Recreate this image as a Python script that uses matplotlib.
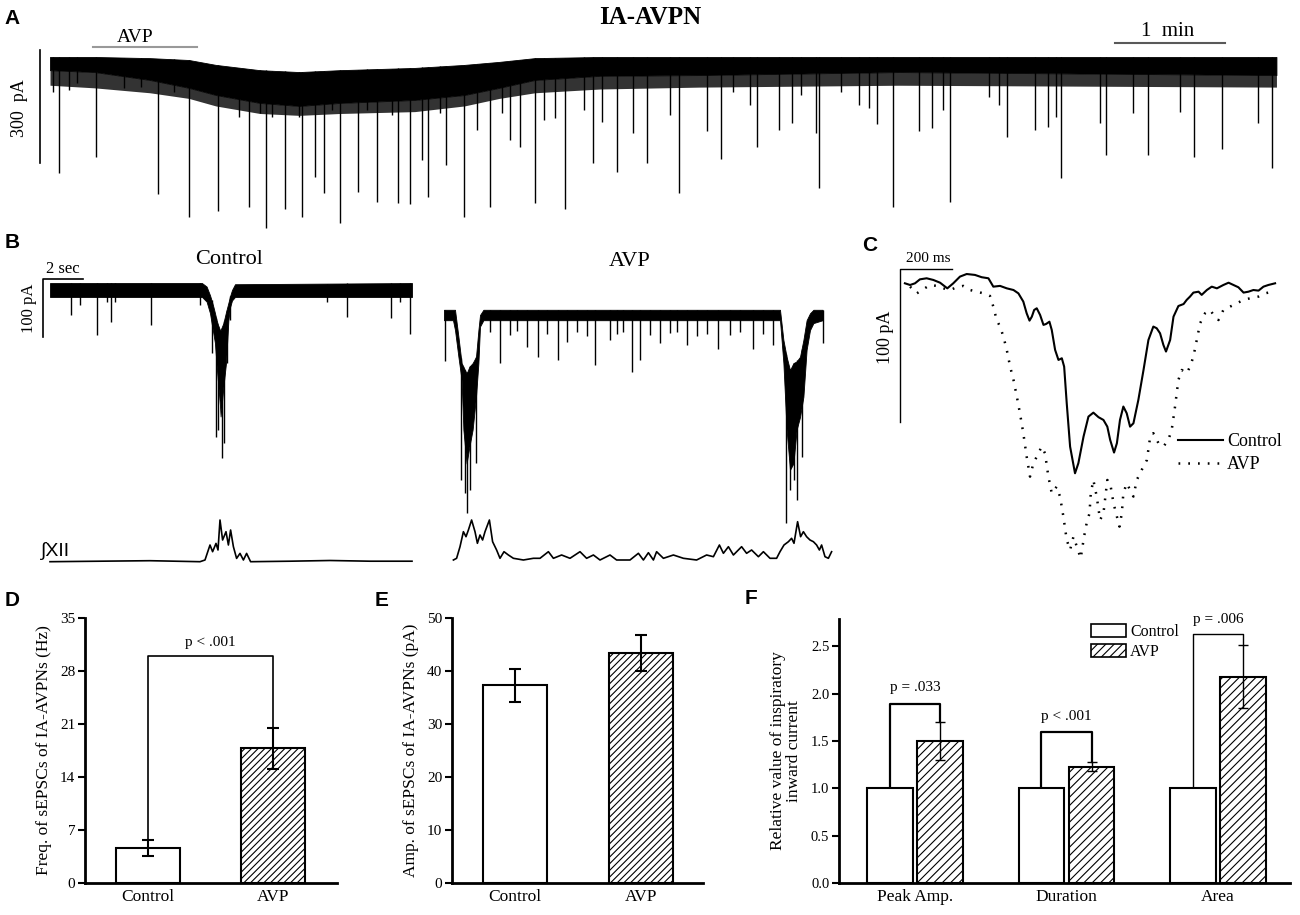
import numpy as np
import matplotlib.pyplot as plt
from matplotlib.patches import Patch

plt.rcParams['font.family'] = ['Liberation Serif', 'DejaVu Serif']
plt.rcParams['hatch.linewidth'] = 0.8

# ---------------- A : long recording (time in s, current in pA) ----------------
a_env_t = [0, 24.5, 54.5, 75.8, 90.5, 114.5, 136, 158, 199, 226, 245, 264.5, 300, 354, 463, 669]
a_env_top = [0, 0, -3, -8, -21, -35, -40, -35, -29, -21, -13, -3, 0, 0, 0, 0]
a_env_solid = [-35, -40, -61, -82, -101, -122, -130, -122, -114, -101, -82, -61, -50, -48, -40, -48]
a_env_fringe = [-75, -82, -95, -110, -130, -150, -155, -150, -145, -130, -110, -95, -85, -80, -75, -80]

a_spk_t = [4.9, 25.1, 58.9, 75.8, 91.6, 108.5, 117.8, 128.2, 137.5, 144.5, 149.5, 158.2, 168.0,
           178.4, 189.8, 196.4, 202.9, 206.2, 216.0, 225.8, 240.0, 256.4, 264.5, 280.9, 296.2,
           309.3, 325.6, 338.2, 343.1, 358.4, 366.0, 381.8, 385.6, 397.6, 404.7, 417.8, 419.5,
           451.1, 459.8, 474.0, 481.1, 487.1, 490.9, 522.0, 537.3, 544.4, 551.5, 572.7, 576.0,
           590.7, 598.9, 616.4, 624.0, 639.3, 658.9, 666.5,
           1.6, 10.4, 14.7, 40.4, 49.6, 67.6, 103.0, 114.5, 121.0, 135.8, 153.8, 173.0, 186.5,
           212.7, 232.9, 246.5, 251.0, 269.5, 275.5, 291.3, 301.0, 318.0, 372.5, 409.6, 431.5,
           441.3, 446.7, 512.0, 517.6, 548.7]
a_spk_amp = [-308, -265, -364, -425, -409, -398, -454, -404, -425, -319, -361, -441, -358,
             -385, -388, -390, -273, -372, -287, -425, -398, -239, -388, -404, -281,
             -305, -281, -154, -361, -196, -271, -127, -239, -194, -175, -202, -348,
             -178, -398, -196, -189, -141, -385, -212, -194, -186, -321, -175, -260,
             -149, -260, -146, -265, -244, -175, -295,
             -93, -88, -69, -82, -80, -93, -159, -149, -159, -159, -141, -141, -154,
             -149, -194, -149, -220, -167, -162, -141, -172, -202, -93, -101, -93,
             -127, -135, -106, -127, -159]

# ---------------- B : control sweep (s, pA) ----------------
bc_t = [0, 7.6, 7.83, 8.0, 8.08, 8.17, 8.25, 8.33, 8.42, 8.5, 8.53, 8.67, 8.8, 8.92, 9.0, 9.1, 9.25, 18.1]
bc_top = [12, 12, 6, -9, -18, -29, -40, -52, -62, -69, -69, -57, -38, -22, -11, 0, 10, 12]
bc_bot = [-12, -12, -20, -40, -57, -75, -92, -130, -167, -200, -218, -167, -126, -52, -30, -18, -12, -12]
bc_spk_t = [8.08, 8.3, 8.42, 8.58, 8.7, 8.83, 9.0,
            1.03, 1.5, 2.33, 2.83, 3.05, 3.25, 5.03, 7.5, 13.83, 14.83, 17.05, 17.5, 18.0]
bc_spk_amp = [-109, -253, -241, -289, -264, -126, -52,
              -43, -26, -78, -20, -55, -20, -60, -26, -20, -47, -49, -20, -75]
bc_xii_t = [0, 2.5, 5.0, 7.5, 7.75, 8.0, 8.13, 8.3, 8.4, 8.5, 8.63, 8.8, 8.92, 9.03, 9.17,
            9.33, 9.5, 9.67, 9.83, 10.03, 12.0, 14.0, 16.0, 18.1]
bc_xii = [0, 0.05, 0.1, 0.0, 0.17, 1.67, 1.0, 1.83, 1.17, 4.17, 2.17, 3.0, 1.67, 3.17, 1.5,
          0.33, 0.83, 0.17, 0.83, 0.0, 0.05, 0.12, 0.05, 0.05]

# ---------------- B : AVP sweep (s, pA) ----------------
bv_t = [0, 0.45, 0.55, 0.72, 0.88, 0.97, 1.13, 1.27, 1.43, 1.6, 1.72, 1.8, 1.97,
        16.8, 16.97, 17.13, 17.3, 17.47, 17.63, 17.8, 17.97, 18.13, 18.3, 18.47, 18.93]
bv_top = [9, 9, 9, -37, -83, -89, -101, -89, -83, -72, -26, 0, 9,
          9, -43, -72, -95, -83, -80, -72, -43, -9, 3, 9, 9]
bv_bot = [-9, -9, -26, -72, -112, -198, -256, -227, -198, -141, -83, -20, -9,
          -9, -83, -198, -267, -256, -198, -176, -141, -60, -26, -14, -9]
bv_spk_t = [0.05, 0.85, 1.05, 1.17, 1.3, 1.6, 17.1, 17.3, 17.52, 17.67, 17.88, 18.93,
            2.8, 4.13, 4.72, 5.72, 6.13, 7.55, 8.3, 9.38, 9.8, 10.8, 12.13, 13.72, 15.47, 16.47,
            2.3, 3.3, 3.63, 5.13, 6.63, 7.13, 8.63, 8.97, 10.3, 11.3, 11.63, 12.63, 13.13,
            14.3, 14.8, 15.97]
bv_spk_amp = [-80, -284, -307, -342, -302, -256, -359, -302, -284, -319, -245, -48,
              -83, -55, -72, -78, -46, -86, -43, -98, -78, -49, -52, -58, -58, -52,
              -30, -35, -28, -33, -30, -36, -32, -29, -34, -31, -30, -37, -33, -35, -30, -32]
bv_xii_t = [0.47, 0.63, 0.8, 0.97, 1.1, 1.22, 1.38, 1.55, 1.67, 1.8, 1.93, 2.05, 2.27, 2.43,
            2.63, 2.8, 3.0, 3.22, 3.47, 3.97, 4.47, 4.8, 5.22, 5.47, 5.88, 6.3, 6.8, 7.13, 7.47,
            7.8, 8.3, 8.63, 9.3, 9.72, 9.97, 10.22, 10.47, 10.63, 10.97, 11.47, 11.97, 12.63,
            13.13, 13.47, 13.77, 13.97, 14.22, 14.47, 14.88, 15.13, 15.38, 15.72, 15.97, 16.3,
            16.63, 16.8, 17.0, 17.22, 17.38, 17.5, 17.68, 17.83, 17.97, 18.13, 18.3, 18.47,
            18.63, 18.77, 18.88, 19.05, 19.22, 19.38]
bv_xii = [0, 0.17, 1.33, 2.83, 2.33, 3.0, 4.0, 2.83, 1.67, 2.5, 2.0, 2.83, 4.0, 1.83,
          1.0, 0.17, 0.83, 0.5, 0.17, 0, 0.17, 0.17, 0.83, 0.17, 0.5, 0.17, 0.83, 0.17, 0.5,
          0, 0.5, 0, 0, 0.67, 0, 0.73, 0, 0.83, 0.17, 0.5, 0.17, 0,
          0.5, 0.33, 1.5, 0.67, 1.33, 0.5, 1.33, 0.67, 1.0, 0.33, 0.83, 0.17,
          0.17, 0.83, 1.5, 1.83, 2.17, 1.67, 3.83, 2.33, 2.83, 2.33, 2.0, 1.83,
          1.5, 1.0, 1.5, 0.33, 0.17, 0.83]

# ---------------- C : averaged inspiratory currents (ms, pA) ----------------
c_ctl_t = [19, 39, 58, 77, 103, 129, 155, 183, 206, 232, 258, 290, 316, 342, 361, 387, 413, 439,
           458, 477, 490, 501, 510, 519, 529, 542, 555, 565, 578, 587, 600, 613, 626, 635, 645,
           658, 677, 690, 710, 729, 748, 768, 787, 802, 813, 828, 839, 851, 864, 877, 890, 903,
           922, 942, 961, 980, 993, 1006, 1019, 1029, 1045, 1058, 1077, 1097, 1109, 1122, 1135,
           1155, 1167, 1187, 1206, 1226, 1251, 1271, 1290, 1309, 1329, 1348, 1367, 1387, 1406,
           1425, 1451]
c_ctl = [-2.2, -3.3, -2.2, 0.4, 1.1, 0, -1.8, -5.5, -2.2, 2.2, 3.9, 3.3, 1.8, 1.1, -4.4, -3.9,
         -5.5, -6.6, -8.8, -14.2, -21.9, -26.7, -24.1, -19.7, -18.6, -23.0, -29.5, -28.9, -27.4,
         -32.8, -45.9, -52.5, -51.4, -56.9, -81.0, -109.4, -126.9, -120.3, -102.8, -89.7, -87.1,
         -90.1, -91.9, -96.3, -105.0, -113.3, -107.2, -91.9, -83.1, -87.5, -96.3, -94.1, -78.8,
         -59.1, -39.4, -30.6, -31.7, -35.0, -42.7, -47.0, -39.4, -24.1, -17.1, -15.8, -13.1,
         -10.9, -8.3, -7.7, -9.8, -6.6, -4.4, -5.5, -3.3, -1.8, -3.3, -4.8, -8.3, -7.7, -6.6,
         -7.0, -4.4, -3.3, -2.2]
c_avp_t = [39, 65, 90, 116, 142, 168, 194, 219, 245, 271, 297, 323, 348, 361, 374, 387, 400, 413,
           426, 439, 452, 464, 477, 490, 503, 516, 529, 548, 561, 574, 587, 606, 619, 632, 645,
           658, 671, 684, 699, 712, 722, 733, 738, 748, 761, 774, 787, 802, 813, 826, 839, 849,
           858, 864, 877, 890, 903, 916, 935, 955, 968, 980, 1000, 1019, 1038, 1051, 1064, 1077,
           1090, 1109, 1122, 1135, 1148, 1161, 1180, 1200, 1213, 1232, 1251, 1277, 1303, 1329,
           1355, 1387, 1413, 1438, 1451]
c_avp = [-4.4, -8.8, -6.1, -3.3, -3.9, -5.5, -6.6, -4.8, -3.9, -6.6, -7.7, -8.8, -10.5, -17.5,
         -26.3, -30.6, -37.2, -45.9, -56.9, -65.6, -76.6, -87.5, -100.6, -116.0, -129.1, -120.3,
         -116.0, -109.4, -113.8, -129.1, -140.0, -135.7, -142.2, -155.3, -170.7, -177.2, -168.5,
         -175.0, -182.7, -168.5, -159.7, -153.2, -140.0, -131.3, -142.2, -157.5, -153.2, -131.3,
         -133.5, -146.6, -155.3, -161.9, -153.2, -140.0, -133.5, -137.8, -142.2, -131.3, -124.7,
         -118.2, -102.8, -100.6, -107.2, -109.4, -105.0, -98.5, -83.1, -65.6, -59.1, -61.3,
         -56.9, -50.3, -39.4, -28.4, -21.9, -19.7, -23.0, -26.3, -19.7, -17.5, -15.3, -13.1,
         -12.0, -10.9, -8.8, -7.7, -6.6]

# ---------------- D, E, F : summary bars ----------------
groups_de = ['Control', 'AVP']
freq_mean = [4.6, 17.8]
freq_err = [1.05, 2.7]
amp_mean = [37.3, 43.4]
amp_err = [3.15, 3.45]
f_groups = ['Peak Amp.', 'Duration', 'Area']
f_ctl = [1.0, 1.0, 1.0]
f_avp = [1.5, 1.23, 2.18]
f_avp_err = [0.2, 0.045, 0.33]
f_pvals = ['p = .033', 'p < .001', 'p = .006']

W, H = 1300, 915
fig = plt.figure(figsize=(13, 9.15), dpi=100)


def ax_px(x0, y0, x1, y1):
    ax = fig.add_axes([x0 / W, 1 - y1 / H, (x1 - x0) / W, (y1 - y0) / H])
    return ax


def txt(x, y, s, **kw):
    kw.setdefault('ha', 'center')
    kw.setdefault('va', 'center')
    fig.text(x / W, 1 - y / H, s, **kw)


def letter(x, y, s):
    txt(x, y, s, family=['Liberation Sans', 'DejaVu Sans'], weight='bold', fontsize=15)


def trace(ax, t, top, bot, spk_t, spk_amp, fringe=None):
    if fringe is not None:
        ax.fill_between(t, fringe, bot, color='0.2', lw=0)
    ax.fill_between(t, bot, top, color='k', lw=0.6, edgecolor='k')
    base = np.interp(spk_t, t, top)
    ax.vlines(spk_t, spk_amp, base, color='k', lw=1.0)
    ax.axis('off')


# ---- A ----
axA = ax_px(50, 40, 1277, 232)
trace(axA, a_env_t, a_env_top, a_env_solid, a_spk_t, a_spk_amp, fringe=a_env_fringe)
axA.set_xlim(0, 669.3)
axA.set_ylim(-464.6, 45.1)
axA.plot([-5.5, -5.5], [18.6, -281.4], color='k', lw=1.2, clip_on=False)
axA.plot([581, 641], [37, 37], color='0.35', lw=1.5, clip_on=False)
axA.plot([23.5, 80.2], [26.5, 26.5], color='0.6', lw=1.5, clip_on=False)
letter(12, 19, 'A')
txt(650, 18, 'IA-AVPN', fontsize=18, weight='bold')
txt(135, 37, 'AVP', fontsize=14)
txt(1168, 31, '1  min', fontsize=15)
txt(19, 108, '300  pA', fontsize=13, rotation=90)

# ---- B ----
axBc = ax_px(30, 270, 420, 470)
trace(axBc, bc_t, bc_top, bc_bot, bc_spk_t, bc_spk_amp)
axBc.set_xlim(-1, 18.5)
axBc.set_ylim(-310.3, 34.5)
axBc.plot([1.65, -0.35, -0.35], [19, 19, -81], color='k', lw=1.2, clip_on=False)

axBcx = ax_px(30, 510, 420, 570)
axBcx.plot(bc_xii_t, bc_xii, color='k', lw=1.2)
axBcx.set_xlim(-1, 18.5)
axBcx.set_ylim(-0.83, 5.17)
axBcx.axis('off')

axBv = ax_px(430, 290, 840, 530)
trace(axBv, bv_t, bv_top, bv_bot, bv_spk_t, bv_spk_amp)
axBv.set_xlim(-0.7, 19.8)
axBv.set_ylim(-370.7, 43.1)

axBvx = ax_px(430, 510, 840, 570)
axBvx.plot(bv_xii_t, bv_xii, color='k', lw=1.2)
axBvx.set_xlim(-0.7, 19.8)
axBvx.set_ylim(-1.0, 5.0)
axBvx.axis('off')

letter(12, 243, 'B')
txt(229, 260, 'Control', fontsize=16)
txt(630, 261, 'AVP', fontsize=16)
txt(63, 269, '2 sec', fontsize=12)
txt(29, 308, '100 pA', fontsize=12, rotation=90)
txt(56, 551, '\u222bXII', fontsize=14, family=['Liberation Sans', 'DejaVu Sans'])

# ---- C ----
axC = ax_px(880, 260, 1290, 570)
l1, = axC.plot(c_ctl_t, c_ctl, color='k', lw=1.5)
l2, = axC.plot(c_avp_t, c_avp, color='k', lw=1.8, linestyle=(0, (0.7, 3.2)))
axC.plot([200, 0, 0], [7, 7, -93], color='k', lw=1.0, clip_on=False)
axC.set_xlim(-77.4, 1508.7)
axC.set_ylim(-190.4, 13.1)
axC.axis('off')
axC.legend([l1, l2], ['Control', 'AVP'], loc='center left',
           bbox_to_anchor=(1178 / W, 1 - 453 / H), bbox_transform=fig.transFigure,
           frameon=False, fontsize=13, handlelength=2.5, handletextpad=0.2, labelspacing=0.35,
           borderpad=0, borderaxespad=0)
letter(870, 245, 'C')
txt(928, 258, '200 ms', fontsize=11)
txt(885, 337, '100 pA', fontsize=13, rotation=90)


# ---- D, E ----
def style_bar_axes(ax, tick_fs=11):
    for s in ['top', 'right']:
        ax.spines[s].set_visible(False)
    for s in ['left', 'bottom']:
        ax.spines[s].set_linewidth(2)
    ax.tick_params(axis='y', direction='out', length=5, width=1.5, labelsize=tick_fs, pad=2)
    ax.tick_params(axis='x', length=0, labelsize=12.5, pad=4)


x_de = np.array([1, 2])
axD = ax_px(85, 618, 337, 883)
bD = axD.bar(x_de, freq_mean, width=0.51, color='white', edgecolor='k', lw=1.5)
bD[1].set_hatch('/////')
axD.errorbar(x_de, freq_mean, yerr=freq_err, fmt='none', ecolor='k', elinewidth=1.5,
             capsize=4, capthick=1.5)
axD.plot([1, 1, 2, 2], [5.7, 30, 30, freq_mean[1] + freq_err[1]], color='k', lw=1.2)
axD.text(1.5, 31.7, 'p < .001', ha='center', va='center', fontsize=11)
axD.set_xlim(0.496, 2.508)
axD.set_ylim(0, 35)
axD.set_yticks(np.arange(0, 36, 7))
axD.set_xticks(x_de)
axD.set_xticklabels(groups_de)
axD.set_ylabel('Freq. of sEPSCs of IA-AVPNs (Hz)', fontsize=12.5, labelpad=6)
style_bar_axes(axD)
letter(12, 600, 'D')

axE = ax_px(452, 618, 703, 883)
bE = axE.bar(x_de, amp_mean, width=0.508, color='white', edgecolor='k', lw=1.5)
bE[1].set_hatch('/////')
axE.errorbar(x_de, amp_mean, yerr=amp_err, fmt='none', ecolor='k', elinewidth=1.5,
             capsize=4, capthick=1.5)
axE.set_xlim(0.498, 2.49)
axE.set_ylim(0, 50)
axE.set_yticks(np.arange(0, 51, 10))
axE.set_xticks(x_de)
axE.set_xticklabels(groups_de)
axE.set_ylabel('Amp. of sEPSCs of IA-AVPNs (pA)', fontsize=12.5, labelpad=6)
style_bar_axes(axE)
letter(382, 600, 'E')

# ---- F ----
xf = np.arange(3)
off = 0.166
axF = ax_px(839, 619, 1290, 883)
bF1 = axF.bar(xf - off, f_ctl, width=0.30, color='white', edgecolor='k', lw=1.5)
bF2 = axF.bar(xf + off, f_avp, width=0.30, color='white', edgecolor='k', lw=1.5, hatch='////')
axF.errorbar(xf + off, f_avp, yerr=f_avp_err, fmt='none', ecolor='k', elinewidth=1.0,
             capsize=3.5, capthick=1.0)
br_top = [1.894, 1.60, 2.63]
br_txt = [2.064, 1.758, 2.79]
for i in range(3):
    lw = 1.0 if i == 2 else 1.6
    axF.plot([xf[i] - off, xf[i] - off, xf[i] + off, xf[i] + off],
             [1.03, br_top[i], br_top[i], f_avp[i] + f_avp_err[i]], color='k', lw=lw)
    axF.text(xf[i], br_txt[i], f_pvals[i], ha='center', va='center', fontsize=11)
axF.set_xlim(-0.502, 2.475)
axF.set_ylim(0, 2.79)
axF.set_yticks(np.arange(0, 2.51, 0.5))
axF.set_yticklabels([f'{v:.1f}' for v in np.arange(0, 2.51, 0.5)])
axF.set_xticks(xf)
axF.set_xticklabels(f_groups)
axF.set_ylabel('Relative value of inspiratory\ninward current', fontsize=12.5,
               labelpad=6, linespacing=1.0)
style_bar_axes(axF, tick_fs=10.5)
axF.legend([Patch(facecolor='white', edgecolor='k', lw=1.2),
            Patch(facecolor='white', edgecolor='k', lw=1.2, hatch='////')],
           ['Control', 'AVP'], loc='upper left',
           bbox_to_anchor=(1091 / W, 1 - 624 / H), bbox_transform=fig.transFigure,
           frameon=False, fontsize=11.5, handlelength=2.2, handleheight=0.9,
           handletextpad=0.25, labelspacing=0.25, borderpad=0, borderaxespad=0)
letter(751, 598, 'F')

fig.savefig('out.png', dpi=100)
